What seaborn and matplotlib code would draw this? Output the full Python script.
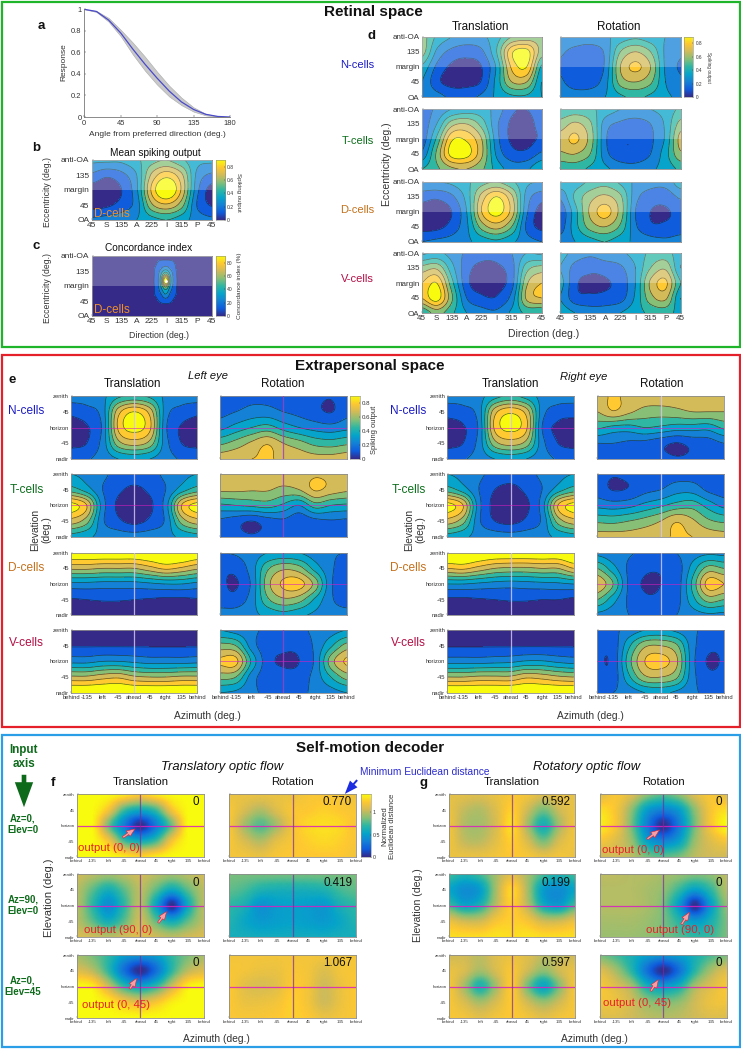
import numpy as np
import matplotlib
matplotlib.use("Agg")
import matplotlib.pyplot as plt
from matplotlib.colors import LinearSegmentedColormap
from matplotlib.patches import Rectangle
import seaborn as sns

# ---------- panel a ----------
angle = [0, 15, 30, 45, 60, 75, 90, 105, 120, 135, 150, 165, 180]
resp_mean = [1, .98, .90, .78, .63, .49, .36, .24, .14, .07, .025, .005, 0]
resp_up = [1, .985, .92, .81, .69, .56, .42, .29, .18, .09, .03, .006, 0]
resp_lo = [1, .975, .885, .75, .58, .43, .30, .19, .11, .05, .015, .003, 0]

# ---------- panels b, c (percent) ----------
b_mean = [[32,32,32,38,46,50,42,33,32],[18,12,17,30,62,76,62,28,18],[5,4,10,28,72,92,68,24,6],
          [6,8,14,25,58,68,54,20,9],[22,24,26,30,36,40,34,26,22]]
c_xpos = [0, 2, 3.7, 4.3, 4.6, 4.93, 5.25, 5.6, 6.2, 8]
c_ypos = [0, .33, .8, 1.2, 1.65, 2.1, 2.6, 3.05, 3.5, 4]
c_conc = [[2,2,2,3,3,3,3,3,2,2],[2,2,3,8,11,12,11,8,3,2],[2,2,4,11,18,24,18,10,3,2],
          [2,2,5,12,28,50,28,11,4,2],[2,2,5,13,35,95,35,12,4,2],[2,2,5,12,28,48,26,11,4,2],
          [2,2,4,11,18,28,17,10,3,2],[2,2,3,7,11,13,11,6,3,2],[2,2,2,3,4,5,4,3,2,2],[2,2,2,2,2,2,2,2,2,2]]

# ---------- panel d (percent) ----------
d_N_T = [[55,38,30,26,28,36,50,54,55],[55,28,17,14,18,40,78,84,55],[38,18,8,6,10,32,72,80,38],
         [30,13,6,6,11,34,60,60,30],[30,24,18,18,22,32,38,38,30]]
d_N_R = [[30,28,26,28,34,38,34,30,30],[22,16,14,22,50,60,50,28,22],[19,12,11,22,60,72,60,28,19],
         [22,14,14,26,54,60,52,30,22],[28,26,27,30,38,42,38,32,28]]
d_T_T = [[15,22,30,34,34,26,12,10,15],[14,30,56,60,46,22,8,6,14],[14,42,78,78,60,24,8,6,12],
         [22,52,84,84,62,28,14,13,22],[40,48,58,60,52,36,26,28,40]]
d_T_R = [[42,44,42,36,30,28,30,34,42],[54,62,52,25,18,15,20,32,54],[64,72,56,22,12,11,18,32,64],
         [58,60,50,24,13,13,20,36,58],[42,44,38,32,26,24,28,34,42]]
d_D_T = [[30,30,32,38,46,50,42,32,30],[14,12,18,34,64,80,62,26,14],[6,5,10,30,70,84,66,22,6],
         [6,7,14,28,54,64,50,18,7],[20,22,24,28,34,38,32,24,20]]
d_D_R = [[36,35,42,46,38,28,24,24,36],[22,42,56,62,52,24,15,14,22],[13,36,62,74,56,20,10,9,13],
         [15,36,54,60,48,22,12,12,15],[24,30,36,40,34,28,24,22,24]]
d_V_T = [[28,32,26,18,14,14,20,30,28],[54,58,34,14,7,8,16,46,54],[70,80,44,13,6,7,16,58,70],
         [70,85,52,20,12,11,24,62,70],[40,54,42,30,24,22,32,42,40]]
d_V_R = [[34,26,22,26,28,34,42,44,34],[30,16,12,14,18,30,50,58,30],[34,12,9,9,14,30,62,72,40],
         [30,14,12,13,16,32,56,62,30],[36,30,26,26,30,36,42,44,36]]

# ---------- panel e, left eye (percent) ----------
l_N_T = [[25,25,28,38,42,38,28,25,25],[12,16,25,66,80,66,25,16,12],[7,9,22,72,84,72,22,9,7],
         [7,10,24,56,64,56,24,10,7],[18,19,24,30,33,30,24,19,18]]
l_N_R = [[15,15,17,17,15,14,12,10.5,15],[17,20,24,24,20,17,13,9.5,17],[27,34,40,44,36,30,26,24,27],
         [48,54,62,69,60,54,47,45,48],[66,68,70,71,68,66,64,64,66]]
l_T_T = [[30,27,22,17,15,17,22,27,30],[45,35,20,12,8,12,20,35,45],[84,70,25,8,5,8,25,70,84],
         [66,54,22,12,7,12,22,54,66],[36,32,27,25,24,25,27,32,36]]
l_T_R = [[66,67,67,67,66,66,69,68,66],[62,62,61,61,57,60,71,66,62],[38,40,42,44,38,30,45,40,38],
         [18,14,10,15,18,13,17,19,18],[14,12,10.5,12,14,14,13,14,14]]
l_D_T = [[90,90,90,90,90,92,95,95,90],[62,62,60,60,60,66,72,68,62],[27,27,26,26,26,28,30,30,27],
         [9,10,11,11,10,9,8,8,9],[3,3,3,3,3,3,3,3,3]]
l_D_R = [[20,21,25,30,32,30,25,21,20],[12,13,25,48,58,54,36,22,14],[12,9,22,56,72,74,56,22,12],
         [14,14,25,48,58,54,38,22,14],[25,25,28,32,36,32,28,25,25]]
l_V_T = [[3,3,3,3,3,3,3,3,3],[9,9,9,9,9,9,9,9,9],[27,27,30,30,28,26,26,26,27],
         [62,62,66,68,62,60,60,62,62],[92,92,92,92,92,92,92,92,92]]
l_V_R = [[30,26,22,18,17,18,22,26,30],[54,50,25,14,12,13,22,38,54],[72,73,38,14,9,10,22,55,72],
         [54,50,25,15,13,14,24,40,54],[30,28,22,18,17,18,22,26,30]]

# ---------- panel e, right eye (percent) ----------
r_N_T = [[25,25,27,36,42,36,27,25,25],[13,16,25,66,78,66,25,15,13],[7,9,22,72,83,72,20,8,7],
         [7,10,24,56,64,56,24,10,7],[17,19,24,30,33,30,24,19,17]]
r_N_R = [[67,71,68,66,66,65,65,65,67],[60,69,62,56,55,57,60,60,60],[42,37,36,40,38,35,35,34,42],
         [20,20,18,17,13,9.5,13,15,20],[14,14,14,13,12,10.5,11,13,14]]
r_T_T = [[30,27,22,17,15,17,22,27,30],[45,35,20,10,7,12,20,35,45],[84,70,24,7,5,8,25,70,84],
         [66,54,22,10,7,12,22,54,66],[36,32,27,25,24,25,27,32,36]]
r_T_R = [[13,10.5,12,14,15,16,16,15,13],[15,9.5,11,17,20,26,26,18,15],[27,25,27,33,38,44,46,36,27],
         [48,47,50,54,60,69,62,52,48],[64,64,64,66,68,71,70,66,64]]
r_D_T = [[95,95,92,90,90,90,90,90,95],[70,72,66,60,58,58,60,60,70],[30,30,28,26,25,26,27,28,30],
         [8,8,9,10,11,11,10,10,8],[3,3,3,3,3,3,3,3,3]]
r_D_R = [[27,23,21,18,17,20,25,28,27],[50,34,18,12,11,14,34,54,50],[68,50,18,9,10,14,42,74,70],
         [50,34,18,12,12,16,36,54,50],[27,24,20,18,18,20,25,28,27]]
r_V_T = [[3,3,3,3,3,3,3,3,3],[9,9,9,9,9,9,9,9,9],[26,26,26,27,28,31,31,28,26],
         [60,60,62,62,62,68,66,62,60],[92,92,92,92,92,92,92,92,92]]
r_V_R = [[18,18,24,30,32,28,22,17,18],[12,14,38,58,60,52,24,13,12],[11,13,46,70,74,62,24,9,11],
         [13,14,38,58,60,52,24,13,13],[20,20,24,30,32,28,22,18,20]]

# ---------- panels f, g (normalized distance) ----------
f_T1 = [[1.4,1.4,1.4,1.35,1.25,1.35,1.4,1.4,1.4],[1.4,1.4,1.2,.75,.6,.75,1.2,1.4,1.4],[1.4,1.4,.85,.35,.02,.35,.85,1.4,1.4],
        [1.4,1.4,1.2,.75,.6,.75,1.2,1.4,1.4],[1.4,1.4,1.4,1.35,1.28,1.35,1.4,1.4,1.4]]
f_R1 = [[1.15,1.15,1.15,1.15,1.15,1.2,1.2,1.2,1.15],[1.2,1.08,.98,1.1,1.2,1.22,1.25,1.22,1.2],[1.2,.95,.78,.95,1.18,1.28,1.3,1.28,1.2],
        [1.2,1.08,.98,1.12,1.2,1.25,1.28,1.25,1.2],[1.18,1.18,1.15,1.2,1.22,1.22,1.22,1.22,1.18]]
f_T2 = [[1.05,1.0,.95,1.0,1.05,1.0,.95,1.0,1.05],[1.0,.8,.62,.8,1.0,.8,.58,.8,1.0],[1.0,.7,.42,.7,1.0,.55,.02,.58,1.0],
        [1.0,.8,.6,.8,1.05,.8,.58,.8,1.0],[1.08,1.05,1.0,1.05,1.1,1.05,1.0,1.05,1.08]]
f_R2 = [[.85,.85,.85,.85,.85,.85,.85,.85,.85],[.8,.75,.65,.62,.62,.62,.65,.75,.8],[.7,.62,.45,.5,.52,.5,.48,.62,.7],
        [.65,.55,.48,.5,.52,.5,.48,.55,.65],[.6,.6,.58,.58,.58,.58,.58,.6,.6]]
f_T3 = [[.95,.85,.7,.5,.45,.5,.7,.85,.95],[1.1,1.0,.7,.28,.02,.28,.7,1.0,1.1],[1.4,1.35,1.05,.7,.55,.7,1.05,1.35,1.4],
        [1.4,1.4,1.35,1.2,1.1,1.2,1.35,1.4,1.4],[1.4,1.4,1.4,1.4,1.4,1.4,1.4,1.4,1.4]]
f_R3 = [[1.18,1.18,1.18,1.18,1.18,1.18,1.18,1.18,1.18],[1.2,1.18,1.15,1.15,1.2,1.18,1.1,1.18,1.2],[1.22,1.12,1.08,1.12,1.22,1.18,1.05,1.15,1.22],
        [1.22,1.15,1.15,1.18,1.25,1.18,1.05,1.15,1.22],[1.2,1.2,1.2,1.22,1.25,1.22,1.15,1.18,1.2]]
g_T1 = [[1.12,1.12,1.1,1.15,1.2,1.18,1.1,1.15,1.12],[1.15,1.02,.98,1.1,1.25,1.05,.85,1.05,1.15],[1.18,.98,.95,1.08,1.3,.95,.62,.95,1.18],
        [1.18,1.02,1.0,1.12,1.25,1.08,.85,1.08,1.18],[1.15,1.15,1.15,1.18,1.22,1.2,1.15,1.18,1.15]]
g_R1 = [[1.1,1.2,1.1,.9,.8,.9,1.1,1.2,1.1],[1.3,1.2,.9,.5,.38,.5,.9,1.2,1.3],[1.35,1.2,.85,.35,.02,.35,.85,1.2,1.4],
        [1.2,1.1,.92,.52,.38,.52,.92,1.1,1.2],[1.05,1.05,1.0,.85,.8,.85,1.0,1.05,1.05]]
g_T2 = [[.75,.65,.75,.95,1.1,.95,.75,.65,.75],[.55,.42,.5,.95,1.28,.95,.5,.42,.55],[.75,.55,.65,1.0,1.25,1.0,.6,.5,.75],
        [1.15,1.05,1.05,1.2,1.25,1.2,1.05,1.05,1.15],[1.3,1.3,1.3,1.32,1.3,1.32,1.3,1.3,1.3]]
g_R2 = [[1.0,1.0,.98,.98,.95,.92,.88,.9,1.0],[.98,.98,.98,.95,.9,.72,.52,.7,.98],[.98,.98,.98,.95,.85,.5,.02,.5,.9],
        [.95,.95,.95,.92,.85,.68,.48,.62,.85],[.92,.92,.92,.9,.85,.78,.7,.72,.85]]
g_T3 = [[1.05,1.05,1.0,1.1,1.15,1.1,1.0,1.0,1.05],[1.15,1.08,.95,1.08,1.2,1.05,.9,1.05,1.15],[1.2,.95,.65,.95,1.22,.85,.55,.88,1.2],
        [1.2,1.08,.95,1.08,1.22,1.05,.92,1.05,1.2],[1.2,1.18,1.12,1.18,1.22,1.18,1.12,1.18,1.2]]
g_R3 = [[.85,.75,.62,.5,.45,.5,.62,.75,.85],[1.1,.95,.68,.28,.02,.28,.68,.95,1.1],[1.2,1.1,.95,.62,.5,.62,.95,1.1,1.2],
        [1.18,1.15,1.05,.9,.85,.9,1.05,1.15,1.18],[1.1,1.1,1.05,1.0,.98,1.0,1.05,1.1,1.1]]

# ---------- labels ----------
dir_labels = ["45", "S", "135", "A", "225", "I", "315", "P", "45"]
ecc_labels = ["anti-OA", "135", "margin", "45", "OA"]
az_labels = ["behind", "-135", "left", "-45", "ahead", "45", "right", "135", "behind"]
el_labels = ["zenith", "45", "horizon", "-45", "nadir"]
cell_names = ["N-cells", "T-cells", "D-cells", "V-cells"]
cell_colors = ["#1c1cc4", "#0c6e1c", "#c4701a", "#b40f45"]
min_f = ["0", "0.770", "0", "0.419", "0", "1.067"]
min_g = ["0.592", "0", "0.199", "0", "0.597", "0"]

sns.set_theme(style="white")
plt.rcParams["font.family"] = ["Liberation Sans", "DejaVu Sans"]
W, H = 741, 1050
fig = plt.figure(figsize=(W / 100, H / 100), dpi=100, facecolor="white")
parula = LinearSegmentedColormap.from_list(
    "parula", ["#352a87", "#0f5cdd", "#1481d6", "#06a4ca", "#2eb7a4", "#87bf77", "#d1bb59", "#fec832", "#f9fb0e"])
EDGE = "#8c8c8c"


def axpx(x0, y0, x1, y1, **kw):
    return fig.add_axes([x0 / W, 1 - y1 / H, (x1 - x0) / W, (y1 - y0) / H], **kw)


def cr_axis0(z, n=14):
    m = z.shape[0]
    u = np.linspace(0, m - 1, (m - 1) * n + 1)
    i = np.clip(np.floor(u).astype(int), 0, m - 2)
    t = (u - i)[:, None]
    p0, p1, p2, p3 = z[np.clip(i - 1, 0, m - 1)], z[i], z[i + 1], z[np.clip(i + 2, 0, m - 1)]
    return u, 0.5 * (2 * p1 + (p2 - p0) * t + (2 * p0 - 5 * p1 + 4 * p2 - p3) * t ** 2 + (3 * p1 - p0 - 3 * p2 + p3) * t ** 3)


def refine(data, xs=None, ys=None):
    z = np.asarray(data, float)
    xs = np.arange(z.shape[1], dtype=float) if xs is None else np.asarray(xs, float)
    ys = np.arange(z.shape[0], dtype=float) if ys is None else np.asarray(ys, float)
    v, zz = cr_axis0(z)
    u, zz = cr_axis0(zz.T)
    X = np.interp(u, np.arange(len(xs)), xs)
    Y = np.interp(v, np.arange(len(ys)), ys)
    return X, Y, zz.T


def style(ax, xl, yl, fs):
    ax.set_xlim(0, 8)
    ax.set_ylim(4, 0)
    ax.set_xticks(range(9))
    ax.set_yticks(range(5))
    ax.set_xticklabels(xl if xl else [])
    ax.set_yticklabels(yl if yl else [])
    ax.tick_params(direction="in", length=1.5, width=0.3, color="#555555", labelsize=fs,
                   labelcolor="#333333", pad=1.5, bottom=True, left=True)
    for s in ax.spines.values():
        s.set_color(EDGE)
        s.set_linewidth(0.6)


def contour_panel(rect, data, xl=None, yl=None, fs=6, scale=100, levels=None, xs=None, ys=None):
    ax = axpx(*rect)
    X, Y, z = refine(np.asarray(data, float) / scale, xs, ys)
    lv = np.arange(0.1, 0.85, 0.1) if levels is None else levels
    bounds = [-100] + list(lv) + [1000]
    cols = [parula(i / 8) for i in range(9)]
    ax.contourf(X, Y, z, levels=bounds, colors=cols)
    ax.contour(X, Y, z, levels=lv, colors="#222222", linewidths=0.5, alpha=0.75)
    style(ax, xl, yl, fs)
    return ax


def smooth_panel(rect, data, xl=None, yl=None, fs=3.2):
    ax = axpx(*rect)
    X, Y, z = refine(data)
    ax.pcolormesh(X, Y, z, shading="gouraud", cmap=parula, vmin=0, vmax=1.4, rasterized=True)
    style(ax, xl, yl, fs)
    ax.axhline(2, color="#d81fc0", lw=0.9, alpha=0.85)
    ax.axvline(4, color="#7a2a9c", lw=0.9, alpha=0.7)
    return ax


def wash(ax):
    ax.add_patch(Rectangle((0, 0), 8, 2, fc="white", ec="none", alpha=0.25, zorder=5))


def cbar(rect, vmax, ticks, labels, fs):
    ax = axpx(*rect)
    ax.imshow(np.linspace(0, 1, 256)[:, None], origin="lower", aspect="auto", cmap=parula, extent=[0, 1, 0, vmax])
    ax.set_xticks([])
    ax.yaxis.tick_right()
    ax.set_yticks(ticks)
    ax.set_yticklabels(labels)
    ax.tick_params(axis="y", right=True, direction="in", length=1, width=0.3, labelsize=fs, pad=1.5, labelcolor="#333333")
    for s in ax.spines.values():
        s.set_color(EDGE)
        s.set_linewidth(0.4)
    return ax


# ---------- panel a ----------
ax = axpx(84.3, 9.3, 230, 117)
ax.fill_between(angle, resp_lo, resp_up, color="#c9c9c9", lw=0.4, edgecolor="#aaaaaa")
sns.lineplot(x=angle, y=resp_mean, ax=ax, color="#4a4acb", lw=0.9)
ax.set_xlim(0, 180)
ax.set_ylim(0, 1)
ax.set_xticks([0, 45, 90, 135, 180])
ax.set_yticks([0, .2, .4, .6, .8, 1])
ax.set_yticklabels(["0", "0.2", "0.4", "0.6", "0.8", "1"])
ax.tick_params(labelsize=5.4, length=1.5, width=0.3, direction="in", pad=2, labelcolor="#333333", bottom=True, left=True)
for k in ["top", "right"]:
    ax.spines[k].set_visible(False)
for k in ["left", "bottom"]:
    ax.spines[k].set_color("#777777")
    ax.spines[k].set_linewidth(0.6)

# ---------- panels b, c ----------
ax = contour_panel((91.7, 160, 211.7, 220), b_mean, dir_labels, ecc_labels, 6)
wash(ax)
cbar((215.7, 160, 225, 220), 0.9, [0, .2, .4, .6, .8], ["0", "0.2", "0.4", "0.6", "0.8"], 3.6)
ax = contour_panel((91.7, 256, 211.7, 316), c_conc, dir_labels, ecc_labels, 6, scale=1,
                   levels=np.arange(10, 85, 10), xs=c_xpos, ys=c_ypos)
wash(ax)
ax.plot([4.93], [1.65], "o", ms=2, color="white", mew=0, zorder=6)
cbar((215.7, 256, 225, 316), 90, [0, 20, 40, 60, 80], ["0", "20", "40", "60", "80"], 3.6)

# ---------- panel d ----------
d_rows = [(36.7, 97), (109, 169), (181.7, 241.7), (253, 313)]
d_cols = [(421.7, 541.7), (560, 680.7)]
d_data = [[d_N_T, d_N_R], [d_T_T, d_T_R], [d_D_T, d_D_R], [d_V_T, d_V_R]]
for i, (y0, y1) in enumerate(d_rows):
    for j, (x0, x1) in enumerate(d_cols):
        ax = contour_panel((x0, y0, x1, y1), d_data[i][j], dir_labels if i == 3 else None,
                           ecc_labels if j == 0 else None, 5.8)
        wash(ax)
cbar((684.3, 36.7, 693.3, 97), 0.9, [0, .2, .4, .6, .8], ["0", "0.2", "0.4", "0.6", "0.8"], 3.4)

# ---------- panel e ----------
e_rows = [(396, 459), (474, 536.7), (552.7, 615.3), (630, 692.7)]
e_cols = [(71, 197.3), (220, 346.7), (447.3, 573.7), (597.3, 724)]
e_data = [[l_N_T, l_N_R, r_N_T, r_N_R], [l_T_T, l_T_R, r_T_T, r_T_R],
          [l_D_T, l_D_R, r_D_T, r_D_R], [l_V_T, l_V_R, r_V_T, r_V_R]]
for i, (y0, y1) in enumerate(e_rows):
    for j, (x0, x1) in enumerate(e_cols):
        ax = contour_panel((x0, y0, x1, y1), e_data[i][j], az_labels if i == 3 else None,
                           el_labels if j in (0, 2) else None, 4.2)
        purple = (j == 1)
        ax.axvline(4, color="#a040c0" if purple else "#d4c4f0", lw=0.9, alpha=0.85, zorder=4)
        if not (j in (0, 2) and i >= 2):
            ax.axhline(2, color="#d81fc0", lw=0.5, alpha=0.8, zorder=4)
cbar((350.3, 396, 360, 459), 0.9, [0, .2, .4, .6, .8], ["0", "0.2", "0.4", "0.6", "0.8"], 4.4)

# ---------- panels f, g ----------
s_rows = [(794.3, 857.3), (874, 937.3), (955.3, 1018)]
f_cols = [(76.7, 204), (229, 356)]
g_cols = [(448.7, 575.3), (600, 726.7)]
f_data = [f_T1, f_R1, f_T2, f_R2, f_T3, f_R3]
g_data = [g_T1, g_R1, g_T2, g_R2, g_T3, g_R3]
for i, (y0, y1) in enumerate(s_rows):
    for j in range(2):
        smooth_panel((f_cols[j][0], y0, f_cols[j][1], y1), f_data[2 * i + j], az_labels, el_labels if j == 0 else None)
        smooth_panel((g_cols[j][0], y0, g_cols[j][1], y1), g_data[2 * i + j], az_labels, el_labels if j == 0 else None)
cbar((361, 794.3, 370.7, 857.3), 1.4, [0, .5, 1], ["0", "0.5", "1"], 3.8)

# ---------- overlay: frames, text, arrows ----------
ov = fig.add_axes([0, 0, 1, 1], zorder=20)
ov.set_xlim(0, W)
ov.set_ylim(H, 0)
ov.axis("off")
ov.patch.set_alpha(0)


def T(x, y, s, size=7, ha="center", va="center", color="#111111", **kw):
    ov.text(x, y, s, fontsize=size, ha=ha, va=va, color=color, **kw)


for (x0, y0, x1, y1, c) in [(1.5, 1.5, 739.5, 347, "#1fb52b"), (1.5, 355, 739.5, 727, "#e5202a"), (1.5, 735, 739.5, 1047, "#2a9fe8")]:
    ov.add_patch(Rectangle((x0, y0), x1 - x0, y1 - y0, fc="none", ec=c, lw=1.6))

T(373, 12, "Retinal space", 11, weight="bold")
T(370, 366, "Extrapersonal space", 11, weight="bold")
T(370, 748, "Self-motion decoder", 11, weight="bold")
for s, x, y in [("a", 41, 26), ("b", 36, 148), ("c", 36, 246), ("d", 371, 36), ("e", 12, 380), ("f", 53, 783), ("g", 424, 783)]:
    T(x, y, s, 9.5, weight="bold")

# a-c text
T(64, 62, "Response", 6, rotation=90, color="#333333")
T(157, 134, "Angle from preferred direction (deg.)", 6, color="#333333")
T(155, 153, "Mean spiking output", 7.3)
T(149, 248, "Concordance index", 7.3)
T(47.7, 192, "Eccentricity (deg.)", 6.2, rotation=90, color="#333333")
T(47.7, 288, "Eccentricity (deg.)", 6.2, rotation=90, color="#333333")
T(159, 335, "Direction (deg.)", 6.3, color="#333333")
T(238, 192, "Spiking output", 4.4, rotation=270, color="#333333")
T(239, 286, "Concordance index (%)", 4.6, rotation=90, color="#333333")
T(111.5, 214, "D-cells", 8.4, color="#f0902a")
T(111.5, 310, "D-cells", 8.4, color="#f0902a")

# d text
T(481, 27, "Translation", 8.4)
T(619, 27, "Rotation", 8.4)
T(387, 164, "Eccentricity (deg.)", 7.5, rotation=90, color="#333333")
T(544, 334, "Direction (deg.)", 7.5, color="#333333")
T(708, 67, "Spiking output", 3.4, rotation=270, color="#333333")
for name, col, y in zip(cell_names, cell_colors, [65, 141, 210, 279]):
    T(374, y, name, 8, ha="right", color=col)

# e text
T(208, 376, "Left eye", 8, style="italic")
T(584, 377, "Right eye", 8, style="italic")
for x, s in [(132, "Translation"), (283, "Rotation"), (510, "Translation"), (662, "Rotation")]:
    T(x, 384, s, 8.4)
T(41, 530, "Elevation\n(deg.)", 7.4, rotation=90, color="#333333", linespacing=1.1)
T(415, 530, "Elevation\n(deg.)", 7.4, rotation=90, color="#333333", linespacing=1.1)
T(207, 716, "Azimuth (deg.)", 7.4, color="#333333")
T(590, 716, "Azimuth (deg.)", 7.4, color="#333333")
T(375, 430, "Spiking output", 5.4, rotation=90, color="#333333")
for name, col, y in zip(cell_names, cell_colors, [411, 490, 568, 643]):
    T(44, y, name, 8.6, ha="right", color=col)
    T(426, y, name, 8.6, ha="right", color=col)

# f, g text
T(24, 757, "Input\naxis", 8.4, weight="bold", color="#0f6b1c", linespacing=1.15)
for y, s in [(824, "Az=0,\nElev=0"), (905, "Az=90,\nElev=0"), (986, "Az=0,\nElev=45")]:
    T(23, y, s, 7, weight="bold", color="#0f6b1c", linespacing=1.2)
ov.annotate("", xy=(24, 810), xytext=(24, 772),
            arrowprops=dict(arrowstyle="simple,head_width=1.1,head_length=1.5,tail_width=0.28", fc="#0d6a1a", ec="#0d6a1a", lw=0))
T(222, 767, "Translatory optic flow", 9.4, style="italic")
T(587, 767, "Rotatory optic flow", 9.4, style="italic")
T(424.5, 772, "Minimum Euclidean distance", 7.3, color="#2b2bd0")
ov.annotate("", xy=(343, 796), xytext=(359, 778),
            arrowprops=dict(arrowstyle="simple,head_width=0.6,head_length=0.8,tail_width=0.12", fc="#1c2ce0", ec="#1c2ce0", lw=0))
for x, s in [(141, "Translation"), (292, "Rotation"), (512, "Translation"), (663, "Rotation")]:
    T(x, 782, s, 8.2)
T(49, 898, "Elevation (deg.)", 8, rotation=90, color="#333333")
T(418, 905, "Elevation (deg.)", 7.6, rotation=90, color="#333333")
T(216, 1039, "Azimuth (deg.)", 7.4, color="#333333")
T(594, 1039, "Azimuth (deg.)", 7.4, color="#333333")
T(389, 826, "Normalized\nEuclidean distance", 5.6, rotation=90, color="#333333", linespacing=1.1)

num_y = [802, 883, 963]
for i, y in enumerate(num_y):
    T(199, y, min_f[2 * i], 8.4, ha="right")
    T(352, y, min_f[2 * i + 1], 8.4, ha="right")
    T(570, y, min_g[2 * i], 8.4, ha="right")
    T(722, y, min_g[2 * i + 1], 8.4, ha="right")

for x, y, s in [(78, 848, "output (0, 0)"), (84, 930, "output (90, 0)"), (82, 1005, "output (0, 45)"),
                (602, 850, "output (0, 0)"), (646, 930, "output (90, 0)"), (603, 1003, "output (0, 45)")]:
    T(x, y, s, 8.2, ha="left", color="#e8202a")
for tail, head in [((120.7, 839), (137.3, 827.3)), ((156.7, 925), (168.3, 909.3)), ((128.3, 991), (138.3, 976)),
                   ((645, 840.7), (661.7, 828.3)), ((680, 926.7), (691, 910)), ((649.3, 993.3), (660, 977.3))]:
    ov.annotate("", xy=head, xytext=tail,
                arrowprops=dict(arrowstyle="simple,head_width=0.4,head_length=0.5,tail_width=0.12", fc="#f4a0a8", ec="#e8202a", lw=0.4))

fig.savefig("out.png", dpi=100)
